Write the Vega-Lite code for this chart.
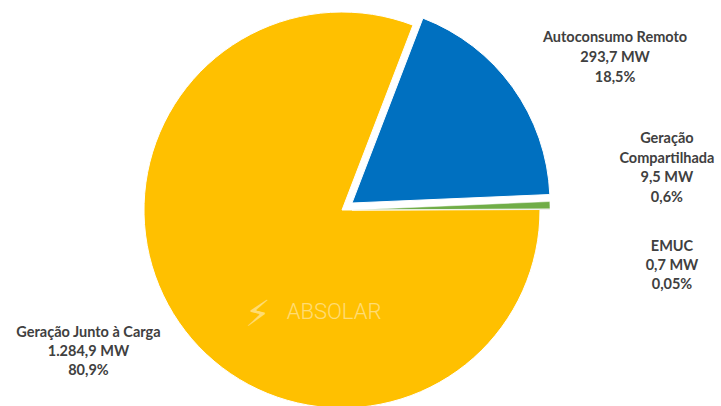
{
  "$schema": "https://vega.github.io/schema/vega-lite/v6.json",
  "width": 684,
  "height": 392,
  "autosize": "none",
  "padding": {"left": 0, "top": 14, "right": 37, "bottom": 0},
  "background": "white",
  "view": {"stroke": null},
  "data": {
    "values": [
      {"ordem": 1, "categoria": "Autoconsumo Remoto", "mw": 293.7, "rotulo": "Autoconsumo Remoto\n293,7 MW\n18,5%"},
      {"ordem": 2, "categoria": "Geração Compartilhada", "mw": 9.5, "rotulo": "Geração\nCompartilhada\n9,5 MW\n0,6%"},
      {"ordem": 3, "categoria": "EMUC", "mw": 0.7, "rotulo": "EMUC\n0,7 MW\n0,05%"},
      {"ordem": 4, "categoria": "Geração Junto à Carga", "mw": 1284.9, "rotulo": "Geração Junto à Carga\n1.284,9 MW\n80,9%"}
    ]
  },
  "encoding": {
    "theta": {"field": "mw", "type": "quantitative", "stack": true, "scale": {"range": [0.3665, 6.6497]}},
    "order": {"field": "ordem", "type": "quantitative"}
  },
  "layer": [
    {
      "mark": {"type": "arc", "outerRadius": 198, "stroke": "white", "strokeWidth": 1},
      "encoding": {
        "color": {"field": "categoria", "type": "nominal", "legend": null,
          "scale": {"domain": ["Autoconsumo Remoto", "Geração Compartilhada", "EMUC", "Geração Junto à Carga"], "range": ["#0070C0", "#70AD47", "#A5A5A5", "#FFC000"]}},
        "opacity": {"condition": {"test": "datum.ordem == 4", "value": 1}, "value": 0}
      }
    },
    {
      "mark": {"type": "arc", "outerRadius": 198, "stroke": "white", "strokeWidth": 1, "xOffset": 10, "yOffset": -7},
      "encoding": {
        "color": {"field": "categoria", "type": "nominal", "legend": null},
        "opacity": {"condition": {"test": "datum.ordem == 1", "value": 1}, "value": 0}
      }
    },
    {
      "mark": {"type": "arc", "outerRadius": 198, "stroke": "white", "strokeWidth": 0.5, "xOffset": 10, "yOffset": 0},
      "encoding": {
        "color": {"field": "categoria", "type": "nominal", "legend": null},
        "opacity": {"condition": {"test": "datum.ordem == 2 || datum.ordem == 3", "value": 1}, "value": 0}
      }
    },
    {
      "mark": {"type": "text", "radius": 260, "dx": 62, "dy": -20, "font": "Lato", "fontWeight": "bold", "fontSize": 14.5, "color": "#404040", "lineBreak": "\n", "lineHeight": 20, "align": "center", "baseline": "middle"},
      "encoding": {"text": {"condition": {"test": "datum.ordem == 1", "field": "rotulo"}, "value": ""}}
    },
    {
      "mark": {"type": "text", "radius": 320, "dx": 5, "dy": -63, "font": "Lato", "fontWeight": "bold", "fontSize": 14.5, "color": "#404040", "lineBreak": "\n", "lineHeight": 19.5, "align": "center", "baseline": "middle"},
      "encoding": {"text": {"condition": {"test": "datum.ordem == 2", "field": "rotulo"}, "value": ""}}
    },
    {
      "mark": {"type": "text", "radius": 330, "dx": 0, "dy": 38, "font": "Lato", "fontWeight": "bold", "fontSize": 14.5, "color": "#404040", "lineBreak": "\n", "lineHeight": 19, "align": "center", "baseline": "middle"},
      "encoding": {"text": {"condition": {"test": "datum.ordem == 3", "field": "rotulo"}, "value": ""}}
    },
    {
      "mark": {"type": "text", "radius": 280, "dx": -23, "dy": -36, "font": "Lato", "fontWeight": "bold", "fontSize": 14.5, "color": "#404040", "lineBreak": "\n", "lineHeight": 19, "align": "center", "baseline": "middle"},
      "encoding": {"text": {"condition": {"test": "datum.ordem == 4", "field": "rotulo"}, "value": ""}}
    },
    {
      "data": {"values": [{"marca": "ABSOLAR", "icone": "⚡"}]},
      "layer": [
        {
          "mark": {"type": "text", "dx": -8, "dy": 102, "font": "Roboto", "fontWeight": 300, "fontSize": 22, "color": "white", "opacity": 0.45, "align": "center", "baseline": "middle"},
          "encoding": {"text": {"field": "marca", "type": "nominal"}}
        },
        {
          "mark": {"type": "text", "dx": -84, "dy": 105, "font": "DejaVu Sans", "fontSize": 36, "color": "white", "opacity": 0.45, "align": "center", "baseline": "middle"},
          "encoding": {"text": {"field": "icone", "type": "nominal"}}
        }
      ],
      "encoding": {"theta": null, "order": null}
    }
  ]
}
